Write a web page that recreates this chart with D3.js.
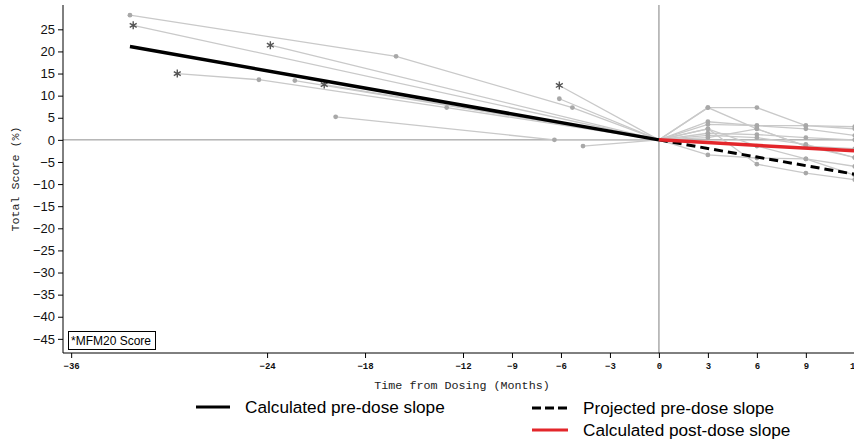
<!DOCTYPE html>
<html><head><meta charset="utf-8">
<script src="https://cdn.jsdelivr.net/npm/d3@7"></script>
<style>body{margin:0;background:#fff;overflow:hidden}svg{display:block}</style>
</head><body><svg id="c" width="854" height="442"></svg>
<script>
// Ticks
const xTicks = [-36, -24, -18, -12, -9, -6, -3, 0, 3, 6, 9, 12];
const yTicks = [25, 20, 15, 10, 5, 0, -5, -10, -15, -20, -25, -30, -35, -40, -45];
// Pre-dose subjects: [month, % change, isMFM20]
const preSubjects = [
  [[-32.4, 28.2, 0], [-16.1, 18.9, 0], [-5.3, 7.3, 0], [0, 0, 0]],
  [[-32.2, 25.9, 1], [0, 0, 0]],
  [[-23.8, 21.4, 1], [0, 0, 0]],
  [[-29.5, 15.0, 1], [-24.5, 13.6, 0], [-13.0, 7.3, 0], [0, 0, 0]],
  [[-22.3, 13.4, 0], [0, 0, 0]],
  [[-20.5, 12.5, 1], [0, 0, 0]],
  [[-19.8, 5.2, 0], [-6.4, 0.0, 0], [0, 0, 0]],
  [[-6.1, 12.3, 1], [0, 0, 0]],
  [[-6.1, 9.3, 0], [0, 0, 0]],
  [[-4.65, -1.4, 0], [0, 0, 0]]
];
// Post-dose subjects: months 0,3,6,9,12
const postMonths = [0, 3, 6, 9, 12];
const postSubjects = [
  [0, 7.3, 7.3, 3.2, 3.0],
  [0, 7.3, 2.5, -1.4, -4.0],
  [0, 4.1, 3.2, 3.2, 2.5],
  [0, 3.5, 3.2, 2.5, 1.0],
  [0, 2.5, -1.4, -4.3, -6.0],
  [0, 1.5, 1.2, 0.5, 0.0],
  [0, 0.5, 2.5, -1.4, -2.0],
  [0, -3.4, -4.1, -4.3, -8.0],
  [0, 2.5, -5.5, -7.5, -9.0],
  [0, 1.0, 0.5, -1.0, -4.0]
];
// Slopes
const preSlope = [[-32.4, 21.1], [0, 0]];
const projSlope = [[0, 0], [12.5, -8.1]];
const postSlope = [[0, 0], [12.5, -2.6]];
const legendItems = ["Calculated pre-dose slope", "Projected pre-dose slope", "Calculated post-dose slope"];
const boxText = "*MFM20 Score";

const svg = d3.select("#c");
const x = d3.scaleLinear().domain([-36.5, 12.5]).range([63, 863]);
const y = d3.scaleLinear().domain([30.5, -48.2]).range([5, 353]);
const line = d3.line().x(d => x(d[0])).y(d => y(d[1]));

// reference lines
svg.append("line").attr("x1", 63).attr("x2", 854).attr("y1", y(0)).attr("y2", y(0))
  .attr("stroke", "#8f8f8f").attr("stroke-width", 1);
svg.append("line").attr("x1", x(0)).attr("x2", x(0)).attr("y1", 5).attr("y2", 353)
  .attr("stroke", "#aaaaaa").attr("stroke-width", 1.5);

const grey = "#c9c9c9";
const g = svg.append("g");
preSubjects.forEach(s => {
  g.append("path").attr("d", line(s)).attr("fill", "none").attr("stroke", grey).attr("stroke-width", 1.3);
});
postSubjects.forEach(s => {
  g.append("path").attr("d", line(s.map((v, i) => [postMonths[i], v]))).attr("fill", "none")
    .attr("stroke", grey).attr("stroke-width", 1.3);
});
// markers
const dots = [];
preSubjects.forEach(s => s.forEach(p => { if (p[0] !== 0) dots.push(p); }));
postSubjects.forEach(s => s.forEach((v, i) => { if (i > 0) dots.push([postMonths[i], v, 0]); }));
dots.forEach(p => {
  if (p[2]) {
    g.append("path").attr("d", d3.symbol(d3.symbolAsterisk, 45)())
      .attr("transform", `translate(${x(p[0])},${y(p[1])})`)
      .attr("stroke", "#555").attr("stroke-width", 1.4).attr("fill", "none");
  } else {
    g.append("circle").attr("cx", x(p[0])).attr("cy", y(p[1])).attr("r", 2.4).attr("fill", "#a8a8a8");
  }
});

// slopes
svg.append("path").attr("d", line(preSlope)).attr("stroke", "#000").attr("stroke-width", 3.5).attr("fill", "none");
svg.append("path").attr("d", line(projSlope)).attr("stroke", "#000").attr("stroke-width", 3)
  .attr("stroke-dasharray", "9,5").attr("fill", "none");
svg.append("path").attr("d", line(postSlope)).attr("stroke", "#e3262b").attr("stroke-width", 3.5).attr("fill", "none");

// axes
const yAxis = svg.append("g").attr("transform", "translate(63,0)")
  .call(d3.axisLeft(y).tickValues(yTicks).tickSize(5).tickPadding(3));
yAxis.select(".domain").attr("d", "M0,5V353");
yAxis.selectAll("text").attr("font-family", "Liberation Sans, Arial, sans-serif").attr("font-size", 13).attr("fill", "#111");
const xAxis = svg.append("g").attr("transform", "translate(0,353)")
  .call(d3.axisBottom(x).tickValues(xTicks).tickSize(5).tickPadding(5));
xAxis.select(".domain").attr("d", "M63,0H863");
xAxis.selectAll("text").attr("font-family", "Liberation Mono, Courier New, monospace")
  .attr("font-weight", "bold").attr("font-size", 9).attr("fill", "#111");

svg.append("text").attr("x", 462).attr("y", 389).attr("text-anchor", "middle")
  .attr("font-family", "Liberation Mono, Courier New, monospace").attr("font-size", 11.7).attr("fill", "#222")
  .text("Time from Dosing (Months)");
svg.append("text").attr("transform", "translate(19,179) rotate(-90)").attr("text-anchor", "middle")
  .attr("font-family", "Liberation Mono, Courier New, monospace").attr("font-size", 11.7).attr("fill", "#222")
  .text("Total Score (%)");

// MFM20 box
svg.append("rect").attr("x", 68.5).attr("y", 331.5).attr("width", 87).attr("height", 18)
  .attr("fill", "#fff").attr("stroke", "#000").attr("stroke-width", 1);
svg.append("text").attr("x", 71).attr("y", 345).attr("font-family", "Liberation Sans, Arial, sans-serif")
  .attr("font-size", 12).attr("fill", "#000").text(boxText);

// legend
const leg = [
  {x1: 196, x2: 230, y: 407, tx: 245, dash: null, col: "#000"},
  {x1: 532, x2: 568, y: 408, tx: 583, dash: "9,4", col: "#000"},
  {x1: 532, x2: 568, y: 430, tx: 583, dash: null, col: "#e3262b"}
];
leg.forEach((l, i) => {
  svg.append("line").attr("x1", l.x1).attr("x2", l.x2).attr("y1", l.y).attr("y2", l.y)
    .attr("stroke", l.col).attr("stroke-width", 3).attr("stroke-dasharray", l.dash);
  svg.append("text").attr("x", l.tx).attr("y", l.y + 6).attr("font-family", "Liberation Sans, Arial, sans-serif")
    .attr("font-size", 17.2).attr("fill", "#000").text(legendItems[i]);
});
</script></body></html>
